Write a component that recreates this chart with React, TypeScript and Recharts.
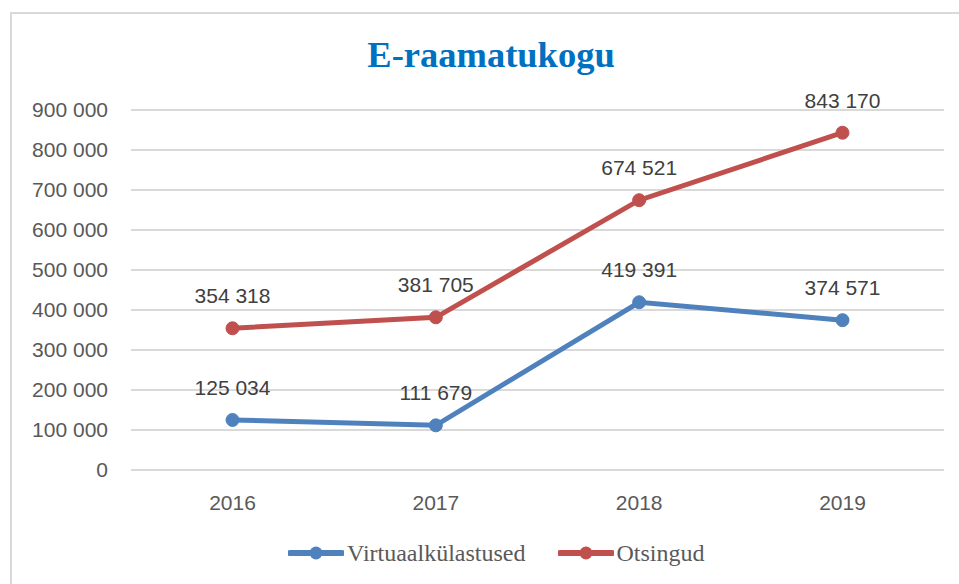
import React from 'react';
import { LineChart, Line, XAxis, YAxis, CartesianGrid, Legend, LabelList } from 'recharts';

const years = ['2016', '2017', '2018', '2019'];
const virtuaal = [125034, 111679, 419391, 374571];
const otsingud = [354318, 381705, 674521, 843170];
const yTicks = [0, 100000, 200000, 300000, 400000, 500000, 600000, 700000, 800000, 900000];

const seriesNames = { v: 'Virtuaalkülastused', o: 'Otsingud' };
const BLUE = '#4F81BD';
const RED = '#C0504D';

const data = years.map((y, i) => ({ year: y, v: virtuaal[i], o: otsingud[i] }));

const fmt = (n: number) => {
  const s = String(Math.round(n));
  return s.replace(/\B(?=(\d{3})+(?!\d))/g, ' ');
};

const ValueLabel = (props: any) => {
  const { x, y, value } = props;
  return (
    <text
      x={x}
      y={y - 25}
      textAnchor="middle"
      fill="#404040"
      fontSize={21}
      fontFamily="'Liberation Sans', Arial, sans-serif"
    >
      {fmt(value)}
    </text>
  );
};

const LegendContent = () => {
  const items = [
    { name: seriesNames.v, color: BLUE },
    { name: seriesNames.o, color: RED },
  ];
  return (
    <div style={{ display: 'flex', alignItems: 'center', paddingLeft: 288, height: 24 }}>
      {items.map((it, i) => (
        <div key={it.name} style={{ display: 'flex', alignItems: 'center', marginRight: i === 0 ? 32 : 0 }}>
          <svg width={56} height={20} style={{ display: 'block' }}>
            <line x1={2} y1={10} x2={54} y2={10} stroke={it.color} strokeWidth={6} strokeLinecap="round" />
            <circle cx={28} cy={10} r={6.5} fill={it.color} />
          </svg>
          <span
            style={{
              marginLeft: 3,
              fontFamily: "'Liberation Serif', 'Times New Roman', serif",
              fontSize: 24,
              color: '#595959',
              lineHeight: '24px',
            }}
          >
            {it.name}
          </span>
        </div>
      ))}
    </div>
  );
};

export default function App() {
  return (
    <div style={{ position: 'absolute', left: 0, top: 0, width: 959, height: 584, overflow: 'hidden', background: '#fff' }}>
      <div
        style={{
          position: 'absolute',
          left: 10,
          top: 12,
          width: 1200,
          height: 1200,
          border: '2px solid #d9d9d9',
          boxSizing: 'border-box',
        }}
      />
      <div
        style={{
          position: 'absolute',
          left: 0,
          width: 982,
          top: 37,
          textAlign: 'center',
          fontFamily: "'Liberation Serif', 'Times New Roman', serif",
          fontWeight: 'bold',
          fontSize: 36.5,
          lineHeight: 1,
          color: '#0070C0',
        }}
      >
        E-raamatukogu
      </div>
      <div style={{ position: 'absolute', left: 0, top: 0 }}>
        <LineChart width={959} height={584} data={data} margin={{ top: 110, right: 15, bottom: 60, left: 31 }}>
          <CartesianGrid vertical={false} stroke="#d9d9d9" strokeWidth={2} />
          <XAxis
            dataKey="year"
            axisLine={false}
            tickLine={false}
            tickSize={0}
            tickMargin={25}
            padding={{ left: 101.5, right: 101.5 }}
            tick={{ fill: '#595959', fontSize: 21, fontFamily: "'Liberation Sans', Arial, sans-serif" }}
            height={30}
          />
          <YAxis
            width={100}
            domain={[0, 900000]}
            ticks={yTicks}
            axisLine={false}
            tickLine={false}
            tickSize={0}
            tickMargin={23}
            tickFormatter={(v: number) => fmt(v)}
            tick={{ fill: '#595959', fontSize: 21, fontFamily: "'Liberation Sans', Arial, sans-serif" }}
          />
          <Legend
            content={<LegendContent />}
            wrapperStyle={{ position: 'absolute', left: 0, top: 541, width: 959, height: 24 }}
          />
          <Line
            type="linear"
            dataKey="v"
            name={seriesNames.v}
            stroke={BLUE}
            strokeWidth={5}
            dot={{ r: 6.5, fill: BLUE, stroke: BLUE, strokeWidth: 1 }}
            activeDot={false}
            isAnimationActive={false}
          >
            <LabelList dataKey="v" content={<ValueLabel />} />
          </Line>
          <Line
            type="linear"
            dataKey="o"
            name={seriesNames.o}
            stroke={RED}
            strokeWidth={5}
            dot={{ r: 6.5, fill: RED, stroke: RED, strokeWidth: 1 }}
            activeDot={false}
            isAnimationActive={false}
          >
            <LabelList dataKey="o" content={<ValueLabel />} />
          </Line>
        </LineChart>
      </div>
    </div>
  );
}
